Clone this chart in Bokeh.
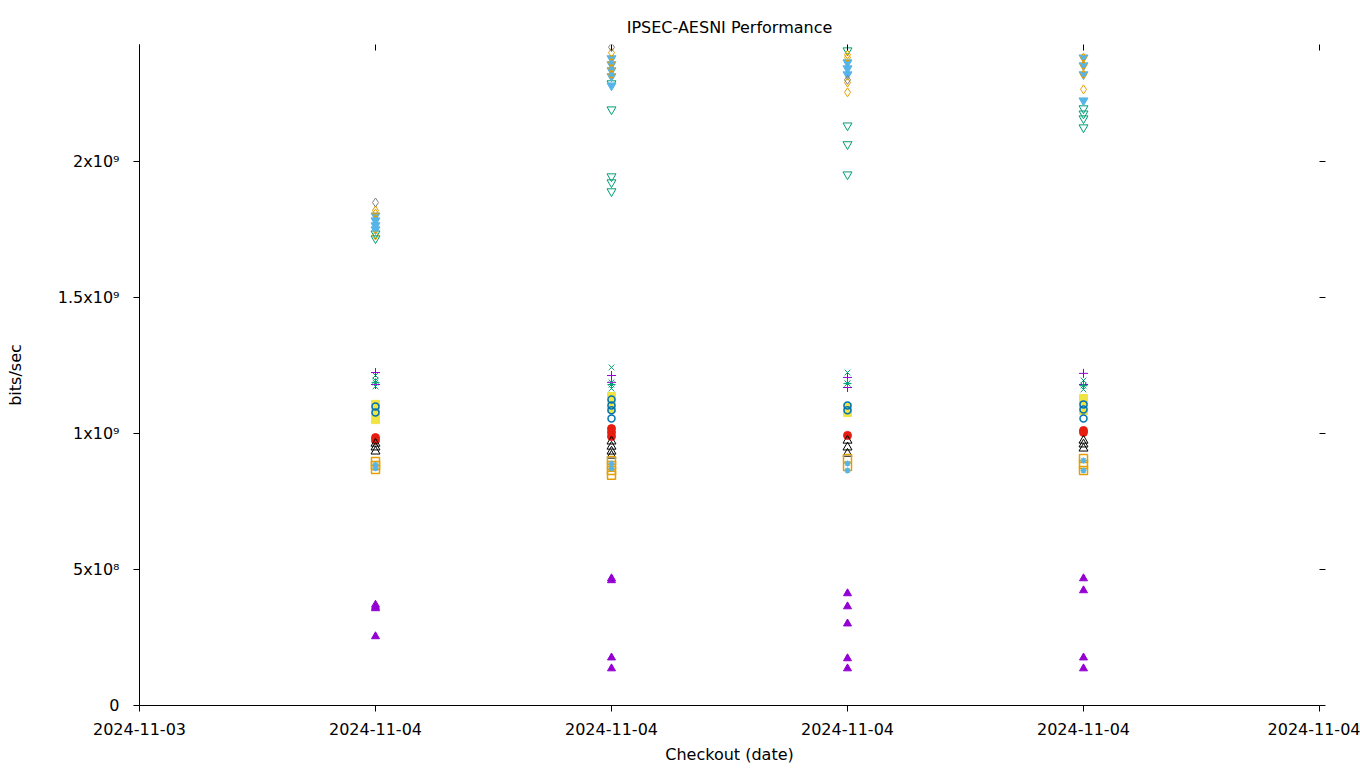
from bokeh.plotting import figure
from bokeh.models import LinearAxis, FixedTicker, Range1d
from bokeh.embed import file_html
from bokeh.resources import INLINE

# ---- data ----
tick_pos = [0, 1, 2, 3, 4, 5]
tick_labels = ["2024-11-03", "2024-11-04", "2024-11-04", "2024-11-04", "2024-11-04", "2024-11-04"]
y_ticks = [0, 5e8, 1e9, 1.5e9, 2e9]
y_tick_labels = ["0", "5x10\u2078", "1x10\u2079", "1.5x10\u2079", "2x10\u2079"]

purple_tri_x = [1, 1, 1, 1, 2, 2, 2, 2, 3, 3, 3, 3, 3, 4, 4, 4, 4]
purple_tri_y = [3.70e8, 3.62e8, 3.57e8, 2.54e8, 4.67e8, 4.60e8, 1.76e8, 1.36e8,
                4.12e8, 3.64e8, 3.01e8, 1.73e8, 1.36e8, 4.67e8, 4.23e8, 1.76e8, 1.36e8]

green_x_x = [1, 1, 1, 2, 2, 2, 3, 3, 4, 4]
green_x_y = [1.213e9, 1.195e9, 1.173e9, 1.243e9, 1.188e9, 1.165e9, 1.224e9, 1.184e9, 1.195e9, 1.162e9]

purple_plus_x = [1, 1, 2, 2, 3, 3, 4, 4]
purple_plus_y = [1.224e9, 1.180e9, 1.213e9, 1.188e9, 1.206e9, 1.169e9, 1.221e9, 1.180e9]

green_star_x = [1, 2, 3, 4]
green_star_y = [1.188e9, 1.180e9, 1.184e9, 1.176e9]

yellow_sq_x = [1, 1, 1, 1, 2, 2, 2, 3, 3, 4, 4, 4]
yellow_sq_y = [1.107e9, 1.085e9, 1.062e9, 1.051e9, 1.136e9, 1.114e9, 1.092e9,
               1.096e9, 1.077e9, 1.129e9, 1.103e9, 1.085e9]

blue_circ_x = [1, 1, 2, 2, 2, 2, 3, 3, 4, 4, 4]
blue_circ_y = [1.099e9, 1.077e9, 1.125e9, 1.103e9, 1.085e9, 1.055e9, 1.103e9, 1.085e9,
               1.107e9, 1.088e9, 1.055e9]

red_circ_x = [1, 1, 2, 2, 2, 3, 4, 4]
red_circ_y = [0.985e9, 0.974e9, 1.018e9, 1.004e9, 0.989e9, 0.993e9, 1.011e9, 1.004e9]

black_tri_x = [1, 1, 1, 2, 2, 2, 2, 3, 3, 3, 4, 4, 4]
black_tri_y = [0.963e9, 0.949e9, 0.934e9, 0.971e9, 0.952e9, 0.934e9, 0.919e9,
               0.974e9, 0.949e9, 0.926e9, 0.974e9, 0.960e9, 0.945e9]

orange_sq_x = [1, 1, 1, 2, 2, 2, 2, 3, 3, 4, 4, 4]
orange_sq_y = [0.897e9, 0.882e9, 0.868e9, 0.901e9, 0.882e9, 0.864e9, 0.846e9,
               0.908e9, 0.879e9, 0.908e9, 0.886e9, 0.864e9]

lblue_star_x = [1, 1, 2, 2, 3, 3, 4, 4]
lblue_star_y = [0.885e9, 0.872e9, 0.890e9, 0.871e9, 0.890e9, 0.864e9, 0.901e9, 0.864e9]

green_inv_x = [1, 1, 2, 2, 2, 2, 2, 3, 3, 3, 3, 4, 4, 4, 4]
green_inv_y = [1.735e9, 1.717e9, 2.287e9, 2.191e9, 1.945e9, 1.923e9, 1.890e9,
               2.408e9, 2.132e9, 2.063e9, 1.952e9, 2.195e9, 2.176e9, 2.158e9, 2.125e9]

lblue_inv_x = [1, 1, 1, 1, 2, 2, 2, 2, 2, 3, 3, 3, 4, 4, 4, 4]
lblue_inv_y = [1.801e9, 1.783e9, 1.765e9, 1.750e9, 2.379e9, 2.357e9, 2.335e9, 2.313e9, 2.279e9,
               2.364e9, 2.342e9, 2.320e9, 2.382e9, 2.353e9, 2.320e9, 2.224e9]

orange_dia_x = [1, 1, 1, 2, 2, 2, 2, 3, 3, 3, 3, 4, 4, 4, 4]
orange_dia_y = [1.820e9, 1.809e9, 1.728e9, 2.400e9, 2.364e9, 2.342e9, 2.320e9,
                2.393e9, 2.382e9, 2.290e9, 2.254e9, 2.382e9, 2.353e9, 2.320e9, 2.265e9]

gray_dia_x = [1, 2, 3]
gray_dia_y = [1.849e9, 2.420e9, 2.300e9]

FONT = "DejaVu Sans"
FS = "16px"

p = figure(width=1360, height=768, output_backend="svg", toolbar_location=None,
           x_range=Range1d(0, 5), y_range=Range1d(0, 2.43e9),
           min_border_left=139, min_border_right=41, min_border_top=44, min_border_bottom=63,
           title="IPSEC-AESNI Performance")
p.title.align = "center"
p.title.text_font = FONT
p.title.text_font_size = FS
p.title.text_font_style = "normal"
p.title.text_color = "black"
p.title.standoff = 15
p.grid.visible = False
p.outline_line_color = None
p.background_fill_color = "white"
p.border_fill_color = "white"

xa = p.xaxis[0]
xa.ticker = FixedTicker(ticks=tick_pos)
xa.major_label_overrides = {t: l for t, l in zip(tick_pos, tick_labels)}
xa.minor_tick_line_color = None
xa.axis_label = "Checkout (date)"
ya = p.yaxis[0]
ya.ticker = FixedTicker(ticks=y_ticks)
ya.major_label_overrides = {t: l for t, l in zip(y_ticks, y_tick_labels)}
ya.minor_tick_line_color = None
ya.axis_label = "bits/sec"
for ax in (xa, ya):
    ax.major_label_text_font = FONT
    ax.major_label_text_font_size = FS
    ax.major_label_text_color = "black"
    ax.axis_label_text_font = FONT
    ax.axis_label_text_font_size = FS
    ax.axis_label_text_font_style = "normal"
    ax.axis_label_text_color = "black"
    ax.major_tick_in = 0
    ax.major_tick_out = 6
    ax.axis_line_color = "black"
    ax.major_tick_line_color = "black"
ya.major_label_standoff = 14
ya.axis_label_standoff = 30
xa.major_label_standoff = 11
xa.axis_label_standoff = 7

top = LinearAxis(ticker=FixedTicker(ticks=tick_pos),
                 major_label_overrides={t: "" for t in tick_pos},
                 axis_line_color=None, minor_tick_line_color=None,
                 major_tick_in=6, major_tick_out=0)
right = LinearAxis(ticker=FixedTicker(ticks=y_ticks),
                   major_label_overrides={t: "" for t in y_ticks},
                   axis_line_color=None, minor_tick_line_color=None,
                   major_tick_in=0, major_tick_out=6)
p.add_layout(top, "above")
p.add_layout(right, "right")

S = 8
p.scatter(purple_tri_x, purple_tri_y, marker="triangle", size=S, color="#9400D3")
p.scatter(green_x_x, green_x_y, marker="x", size=S, line_color="#009E73", line_width=1)
p.scatter(purple_plus_x, purple_plus_y, marker="cross", size=S + 1, line_color="#9400D3", line_width=1)
p.scatter(green_star_x, green_star_y, marker="asterisk", size=S, line_color="#009E73", line_width=1)
p.scatter(yellow_sq_x, yellow_sq_y, marker="square", size=S, color="#F0E442")
p.scatter(blue_circ_x, blue_circ_y, marker="circle", size=S - 1, fill_color=None, line_color="#0072B2", line_width=1.5)
p.scatter(red_circ_x, red_circ_y, marker="circle", size=S, color="#E51E10")
p.scatter(black_tri_x, black_tri_y, marker="triangle", size=S + 1, fill_color=None, line_color="black", line_width=1)
p.scatter(orange_sq_x, orange_sq_y, marker="square", size=S, fill_color=None, line_color="#E69F00", line_width=1.5)
p.scatter(lblue_star_x, lblue_star_y, marker="asterisk", size=S - 2, line_color="#56B4E9", line_width=1.5)
p.scatter(green_inv_x, green_inv_y, marker="inverted_triangle", size=S + 1, fill_color=None, line_color="#009E73", line_width=1)
p.scatter(lblue_inv_x, lblue_inv_y, marker="inverted_triangle", size=S + 1, color="#56B4E9")
p.scatter(orange_dia_x, orange_dia_y, marker="diamond", size=S + 1, fill_color=None, line_color="#E69F00", line_width=1)
p.scatter(gray_dia_x, gray_dia_y, marker="diamond", size=S + 1, fill_color=None, line_color="#808080", line_width=1)

open("out.html", "w").write(file_html(p, INLINE))
